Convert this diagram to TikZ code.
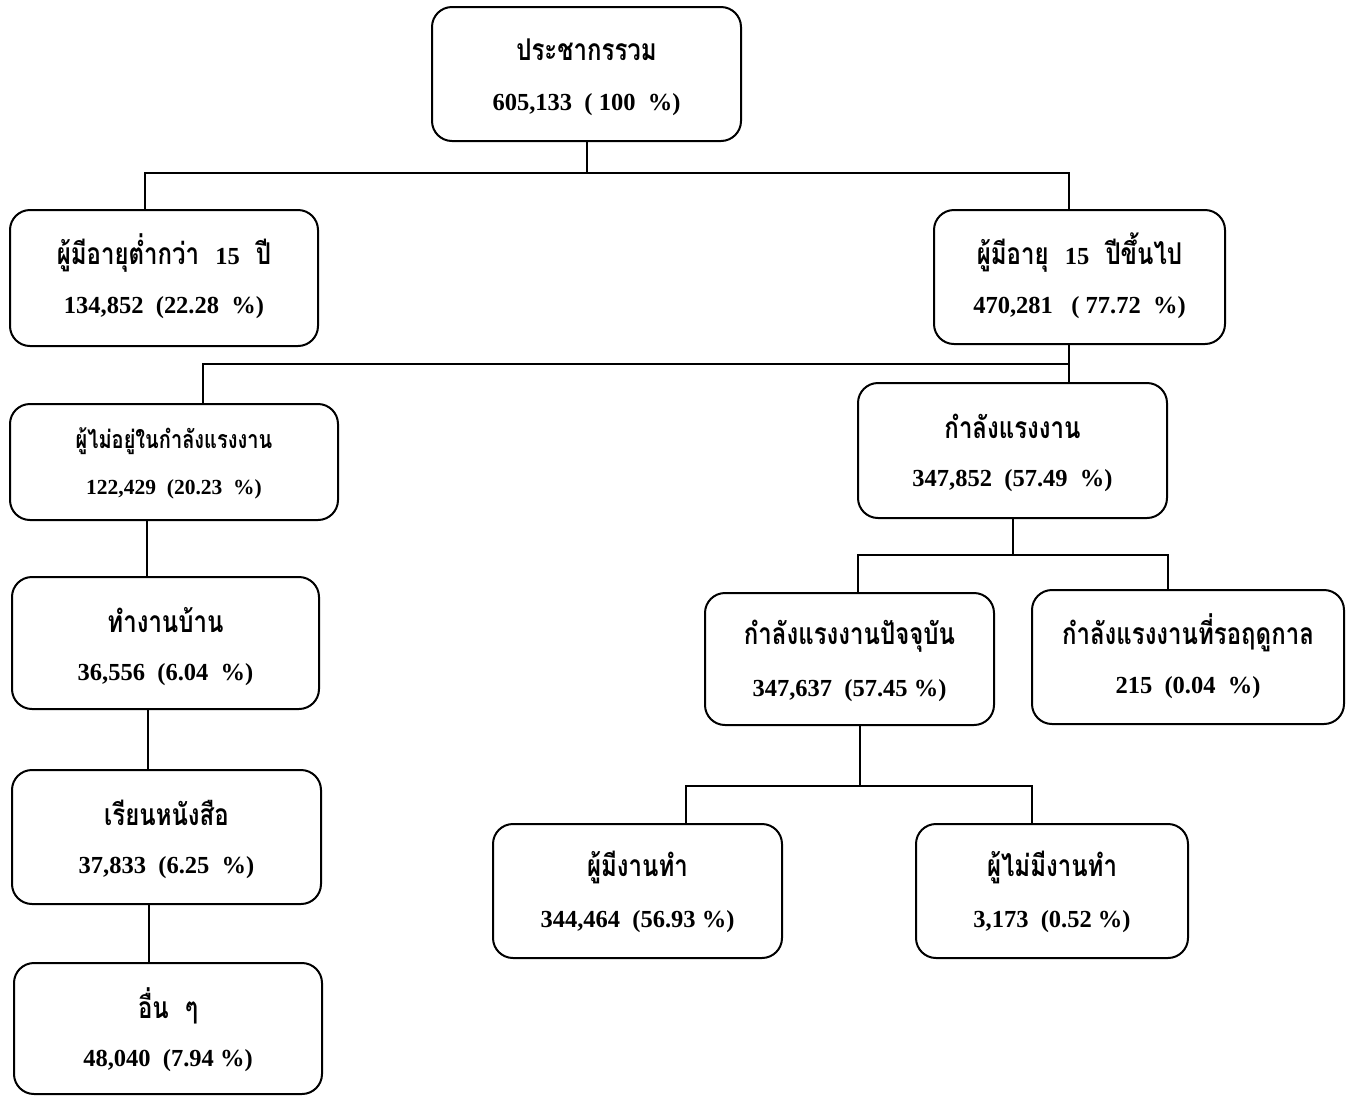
\documentclass[tikz,border=0pt]{standalone}
\usepackage{fontspec}
\setmainfont{Liberation Serif}
\newfontfamily\thaifont[Script=Thai,FakeStretch=0.8]{Loma}
\newfontfamily\numf{Liberation Serif}
\newcommand\smallnum[1]{{\numf\fontsize{24.5}{24.5}\selectfont #1}}
\begin{document}
\begin{tikzpicture}[x=1pt,y=-1pt,
  box/.style={draw, line width=2pt, rounded corners=20pt, align=center, inner sep=0pt},
  conn/.style={line width=2pt},
  th/.style={font=\thaifont\bfseries\fontsize{30}{30}\selectfont},
  num/.style={font=\bfseries\fontsize{24.5}{24.5}\selectfont}]
\useasboundingbox (0,0) rectangle (1353,1096);
\newcommand\mkbox[7]{%
  \node[box, minimum width=#4-#2, minimum height=#5-#3] (#1) at ({(#2+#4)/2},{(#3+#5)/2}) {};
  \node[th] (#1t) at ({(#2+#4)/2},{#3+43}) {#6};
  \node[num] (#1n) at ({(#2+#4)/2},{#3+98}) {#7};}
\mkbox{b1}{432}{7}{741}{141}{ประชากรรวม}{605,133~~( 100~~\%)}
\mkbox{b2}{10}{210}{318}{346}{ผู้มีอายุต่ำกว่า~~\smallnum{15}~~ปี}{134,852~~(22.28~~\%)}
\mkbox{b3}{934}{210}{1225}{344}{ผู้มีอายุ~~\smallnum{15}~~ปีขึ้นไป}{470,281~~~( 77.72~~\%)}
\mkbox{b5}{858}{383}{1167}{518}{กำลังแรงงาน}{347,852~~(57.49~~\%)}
\mkbox{b6}{12}{577}{319}{709}{ทำงานบ้าน}{36,556~~(6.04~~\%)}
\mkbox{b7}{12}{770}{321}{904}{เรียนหนังสือ}{37,833~~(6.25~~\%)}
\mkbox{b8}{14}{963}{322}{1094}{อื่น~~ๆ}{48,040~~(7.94 \%)}
\mkbox{b9}{705}{593}{994}{725}{กำลังแรงงานปัจจุบัน}{347,637~~(57.45 \%)}
\mkbox{b10}{1032}{590}{1344}{724}{กำลังแรงงานที่รอฤดูกาล}{215~~(0.04~~\%)}
\mkbox{b11}{493}{824}{782}{958}{ผู้มีงานทำ}{344,464~~(56.93 \%)}
\mkbox{b12}{916}{824}{1188}{958}{ผู้ไม่มีงานทำ}{3,173~~(0.52 \%)}
% box 4 (smaller text)
\node[box, minimum width=328, minimum height=116] (b4) at (174,462) {};
\node[th, font=\thaifont\bfseries\fontsize{25}{25}\selectfont] (b4t) at (174,441) {ผู้ไม่อยู่ในกำลังแรงงาน};
\node[num, font=\bfseries\fontsize{21.5}{21.5}\selectfont] (b4n) at (174,489) {122,429~~(20.23~~\%)};
% junctions
\coordinate (a1) at (145,173);
\coordinate (a2) at (1069,173);
\coordinate (c1) at (203,364);
\coordinate (c2) at (1069,364);
\coordinate (d1) at (858,555);
\coordinate (d2) at (1168,555);
\coordinate (e1) at (686,786);
\coordinate (e2) at (1032,786);
% connectors
\draw[conn] (b1.south) -- (b1.south |- a1);
\draw[conn] (a1 |- b2.north) -- (a1) -- (a2) -- (a2 |- b3.north);
\draw[conn] (c2 |- b3.south) -- (c2 |- b5.north);
\draw[conn] (c1 |- b4.north) -- (c1) -- (c2);
\draw[conn] (147,0 |- b4.south) -- (147,0 |- b6.north);
\draw[conn] (148,0 |- b6.south) -- (148,0 |- b7.north);
\draw[conn] (149,0 |- b7.south) -- (149,0 |- b8.north);
\draw[conn] (b5.south) -- (b5.south |- d1);
\draw[conn] (d1 |- b9.north) -- (d1) -- (d2) -- (d2 |- b10.north);
\draw[conn] (860,0 |- b9.south) -- (860,786);
\draw[conn] (e1 |- b11.north) -- (e1) -- (e2) -- (e2 |- b12.north);
\end{tikzpicture}
\end{document}
